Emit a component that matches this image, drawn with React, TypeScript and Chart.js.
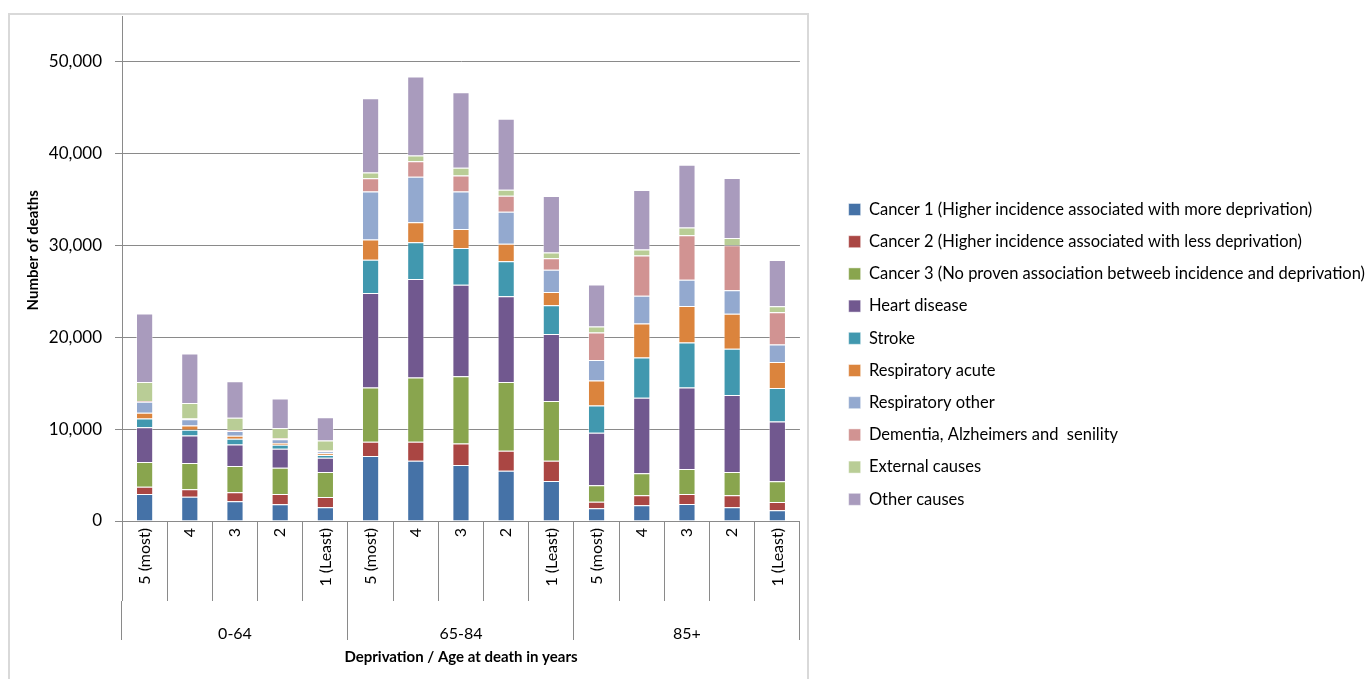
import React, { useEffect, useRef } from 'react';
import { Chart, registerables } from 'chart.js';
Chart.register(...registerables);

const categories = ['5 (most)', '4', '3', '2', '1 (Least)', '5 (most)', '4', '3', '2', '1 (Least)', '5 (most)', '4', '3', '2', '1 (Least)'];
const ageGroups = ['0-64', '65-84', '85+'];
const yTicks = [0, 10000, 20000, 30000, 40000, 50000];

const cancer1 = [2940, 2640, 2140, 1820, 1490, 7070, 6560, 6090, 5470, 4350, 1380, 1710, 1850, 1490, 1160];
const cancer2 = [800, 810, 980, 1120, 1120, 1560, 2070, 2360, 2170, 2210, 720, 1090, 1090, 1310, 900];
const cancer3 = [2680, 2860, 2860, 2860, 2720, 5910, 7000, 7320, 7500, 6520, 1780, 2390, 2720, 2530, 2280];
const heartDisease = [3800, 3010, 2360, 2070, 1560, 10280, 10720, 9970, 9350, 7280, 5720, 8220, 8880, 8400, 6490];
const stroke = [950, 610, 610, 440, 290, 3630, 4020, 3980, 3810, 3150, 2980, 4390, 4890, 5040, 3650];
const respiratoryAcute = [610, 480, 330, 190, 190, 2210, 2170, 2070, 1890, 1440, 2720, 3700, 3980, 3800, 2830];
const respiratoryOther = [1200, 660, 520, 410, 240, 5220, 4940, 4100, 3480, 2410, 2240, 3040, 2870, 2570, 1920];
const dementia = [100, 100, 100, 100, 80, 1450, 1700, 1740, 1740, 1260, 2980, 4380, 4850, 4890, 3510];
const externalCauses = [2070, 1670, 1350, 1130, 1080, 620, 620, 840, 680, 620, 650, 650, 840, 800, 650];
const otherCauses = [7440, 5400, 3960, 3190, 2530, 8080, 8620, 8220, 7720, 6160, 4600, 6490, 6820, 6520, 5040];

const seriesNames = [
  'Cancer 1 (Higher incidence associated with more deprivation)',
  'Cancer 2 (Higher incidence associated with less deprivation)',
  'Cancer 3 (No proven association betweeb incidence and deprivation)',
  'Heart disease',
  'Stroke',
  'Respiratory acute',
  'Respiratory other',
  'Dementia, Alzheimers and  senility',
  'External causes',
  'Other causes',
];
const seriesValues = [cancer1, cancer2, cancer3, heartDisease, stroke, respiratoryAcute, respiratoryOther, dementia, externalCauses, otherCauses];
const seriesColors = ['#4572A7', '#AA4643', '#89A54E', '#71588F', '#4198AF', '#DB843D', '#93A9CF', '#D19392', '#B9CD96', '#A99BBD'];

const FONT = "Lato, 'Open Sans', sans-serif";
const GRID = '#8a8a8a';

export default function App() {
  const ref = useRef<HTMLCanvasElement>(null);
  useEffect(() => {
    document.body.style.margin = '0';
    const framePlugin = {
      id: 'frame',
      beforeDraw(chart: any) {
        const ctx = chart.ctx;
        ctx.save();
        ctx.fillStyle = '#ffffff';
        ctx.fillRect(0, 0, chart.width, chart.height);
        ctx.strokeStyle = '#d9d9d9';
        ctx.lineWidth = 2;
        ctx.strokeRect(9, 14, 799, 700);
        ctx.restore();
      },
    };
    const chart = new Chart(ref.current as HTMLCanvasElement, {
      type: 'bar',
      data: {
        labels: categories,
        datasets: seriesNames.map((name, i) => ({
          label: name,
          data: seriesValues[i],
          backgroundColor: seriesColors[i],
          borderColor: 'rgba(255,255,255,0.45)',
          borderWidth: 1,
          barPercentage: 0.38,
          categoryPercentage: 1,
        })),
      },
      options: {
        responsive: false,
        animation: false,
        layout: { padding: { left: 0, right: -10, top: 16, bottom: 0 } },
        plugins: {
          tooltip: { enabled: false },
          legend: {
            position: 'right',
            maxWidth: 800,
            title: { display: true, text: ' ', padding: 0, font: { family: FONT, size: 11.5 } },
            labels: {
              boxWidth: 12,
              boxHeight: 12,
              padding: 15.7,
              color: '#000',
              font: { family: FONT, size: 16.5 },
            },
          },
        },
        scales: {
          x: {
            stacked: true,
            offset: true,
            grid: { offset: true, drawOnChartArea: false, tickLength: 80, color: GRID, lineWidth: 1 },
            border: { color: GRID },
            ticks: { autoSkip: false, minRotation: 90, maxRotation: 90, padding: -73, color: '#000', font: { family: FONT, size: 16 } },
            afterFit: (s: any) => { s.height = 80; },
          },
          x2: {
            type: 'category',
            labels: ageGroups,
            offset: true,
            position: 'bottom',
            weight: 1,
            grid: { offset: true, drawOnChartArea: false, tickLength: 39, color: GRID, lineWidth: 1 },
            border: { display: false },
            ticks: { padding: -16, color: '#000', font: { family: FONT, size: 16 } },
            title: { display: true, text: 'Deprivation / Age at death in years', color: '#000', font: { family: FONT, size: 15, weight: 'bold' }, padding: { top: 0, bottom: 13 } },
            afterFit: (s: any) => { s.height = 78; },
          },
          y: {
            stacked: true,
            min: 0,
            max: 55000,
            afterBuildTicks: (axis: any) => { axis.ticks = yTicks.map((v) => ({ value: v })); },
            ticks: { padding: 13, color: '#000', font: { family: FONT, size: 17 }, callback: (v: any) => Number(v).toLocaleString('en-US') },
            grid: { color: GRID, lineWidth: 1, tickLength: 7 },
            border: { color: GRID },
            title: { display: true, text: '          Number of deaths', color: '#000', font: { family: FONT, size: 15, weight: 'bold' }, padding: { top: 24, bottom: 0 } },
            afterFit: (s: any) => { s.width = 122; s.paddingTop = 0; s.paddingBottom = 0; },
          },
          y2: {
            type: 'linear',
            position: 'right',
            grid: { display: false },
            border: { display: false },
            ticks: { display: false },
            afterFit: (s: any) => { s.width = 33; s.paddingTop = 0; s.paddingBottom = 0; },
          },
        },
      } as any,
      plugins: [framePlugin],
    });
    return () => chart.destroy();
  }, []);
  return (
    <div style={{ width: 1365, height: 679 }}>
      <canvas ref={ref} width={1365} height={679} style={{ display: 'block' }} />
    </div>
  );
}
